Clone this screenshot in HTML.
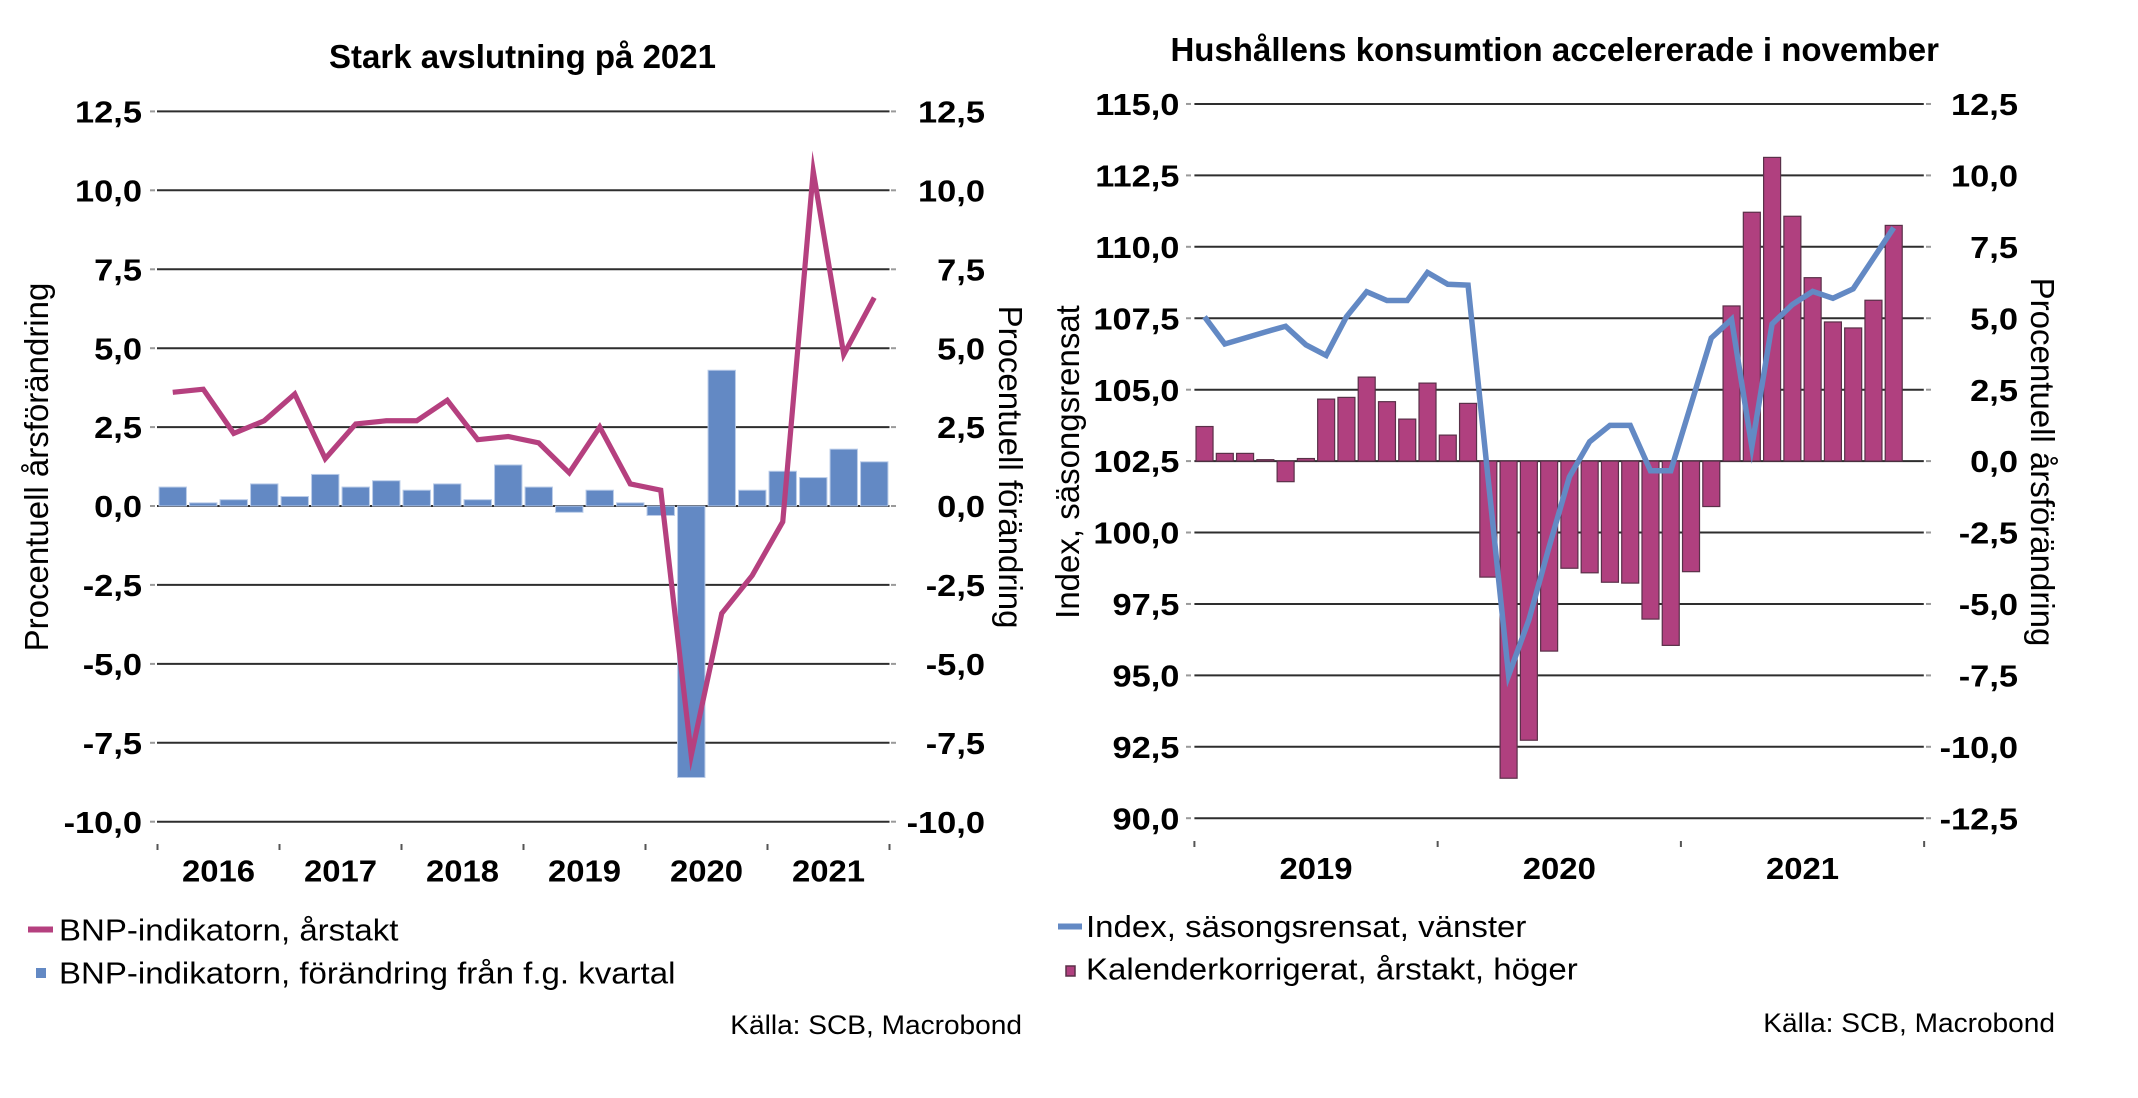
<!DOCTYPE html>
<html>
<head>
<meta charset="utf-8">
<style>
html,body{margin:0;padding:0;background:#fff;}
svg{display:block;}
.t{font-family:"Liberation Sans",Arial,sans-serif;fill:#000;}
.tk{font-size:31px;font-weight:bold;}
.yr{font-size:31px;font-weight:bold;}
.lg{font-size:31px;}
.src{font-size:27px;}
.ax{font-size:33px;}
.ti{font-size:33px;font-weight:bold;}
</style>
</head>
<body>
<svg width="2138" height="1098" viewBox="0 0 2138 1098" xmlns="http://www.w3.org/2000/svg">
<rect width="2138" height="1098" fill="#fff"/>

<!-- ================= LEFT CHART ================= -->
<text class="t ti" x="522.5" y="68" text-anchor="middle">Stark avslutning på 2021</text>

<!-- gridlines -->
<g stroke="#2e2e2e" stroke-width="2">
<line x1="157" y1="111.4" x2="889.5" y2="111.4"/>
<line x1="157" y1="190.3" x2="889.5" y2="190.3"/>
<line x1="157" y1="269.3" x2="889.5" y2="269.3"/>
<line x1="157" y1="348.2" x2="889.5" y2="348.2"/>
<line x1="157" y1="427.1" x2="889.5" y2="427.1"/>
<line x1="157" y1="506" x2="889.5" y2="506"/>
<line x1="157" y1="584.9" x2="889.5" y2="584.9"/>
<line x1="157" y1="663.9" x2="889.5" y2="663.9"/>
<line x1="157" y1="742.8" x2="889.5" y2="742.8"/>
<line x1="157" y1="821.7" x2="889.5" y2="821.7"/>
</g>
<g stroke="#9a9a9a" stroke-width="2">
<line x1="150" y1="111.4" x2="155" y2="111.4"/><line x1="891" y1="111.4" x2="896" y2="111.4"/>
<line x1="150" y1="190.3" x2="155" y2="190.3"/><line x1="891" y1="190.3" x2="896" y2="190.3"/>
<line x1="150" y1="269.3" x2="155" y2="269.3"/><line x1="891" y1="269.3" x2="896" y2="269.3"/>
<line x1="150" y1="348.2" x2="155" y2="348.2"/><line x1="891" y1="348.2" x2="896" y2="348.2"/>
<line x1="150" y1="427.1" x2="155" y2="427.1"/><line x1="891" y1="427.1" x2="896" y2="427.1"/>
<line x1="150" y1="506" x2="155" y2="506"/><line x1="891" y1="506" x2="896" y2="506"/>
<line x1="150" y1="584.9" x2="155" y2="584.9"/><line x1="891" y1="584.9" x2="896" y2="584.9"/>
<line x1="150" y1="663.9" x2="155" y2="663.9"/><line x1="891" y1="663.9" x2="896" y2="663.9"/>
<line x1="150" y1="742.8" x2="155" y2="742.8"/><line x1="891" y1="742.8" x2="896" y2="742.8"/>
<line x1="150" y1="821.7" x2="155" y2="821.7"/><line x1="891" y1="821.7" x2="896" y2="821.7"/>
</g>

<!-- bars -->
<g fill="#6389c4" stroke="#b9cbe8" stroke-width="1">
<rect x="159.05" y="487.06" width="27.4" height="18.94"/>
<rect x="189.55" y="502.84" width="27.4" height="3.16"/>
<rect x="220.05" y="499.69" width="27.4" height="6.31"/>
<rect x="250.55" y="483.90" width="27.4" height="22.10"/>
<rect x="281.05" y="496.53" width="27.4" height="9.47"/>
<rect x="311.55" y="474.43" width="27.4" height="31.57"/>
<rect x="342.05" y="487.06" width="27.4" height="18.94"/>
<rect x="372.55" y="480.74" width="27.4" height="25.26"/>
<rect x="403.05" y="490.21" width="27.4" height="15.79"/>
<rect x="433.55" y="483.90" width="27.4" height="22.10"/>
<rect x="464.05" y="499.69" width="27.4" height="6.31"/>
<rect x="494.55" y="464.96" width="27.4" height="41.04"/>
<rect x="525.05" y="487.06" width="27.4" height="18.94"/>
<rect x="555.55" y="506" width="27.4" height="6.31"/>
<rect x="586.05" y="490.21" width="27.4" height="15.79"/>
<rect x="616.55" y="502.84" width="27.4" height="3.16"/>
<rect x="647.05" y="506" width="27.4" height="9.47"/>
<rect x="677.55" y="506" width="27.4" height="271.5"/>
<rect x="708.05" y="370.25" width="27.4" height="135.75"/>
<rect x="738.55" y="490.21" width="27.4" height="15.79"/>
<rect x="769.05" y="471.27" width="27.4" height="34.73"/>
<rect x="799.55" y="477.59" width="27.4" height="28.41"/>
<rect x="830.05" y="449.17" width="27.4" height="56.83"/>
<rect x="860.55" y="461.8" width="27.4" height="44.2"/>
</g>

<!-- line -->
<polyline fill="none" stroke="#b5407f" stroke-width="5.2" stroke-linejoin="miter" stroke-miterlimit="20"
points="172.75,392.35 203.25,389.19 233.75,433.39 264.25,420.76 294.75,393.93 325.25,458.65 355.75,423.92 386.25,420.76 416.75,420.76 447.25,400.24 477.75,439.70 508.25,436.55 538.75,442.86 569.25,472.85 599.75,427.08 630.25,483.90 660.75,490.22 691.25,755.40 721.75,613.34 752.25,575.45 782.75,521.8 813.25,171.36 843.75,354.46 874.25,297.64"/>

<!-- x ticks -->
<g stroke="#555" stroke-width="2">
<line x1="157.5" y1="844" x2="157.5" y2="850"/>
<line x1="279.5" y1="844" x2="279.5" y2="850"/>
<line x1="401.5" y1="844" x2="401.5" y2="850"/>
<line x1="523.5" y1="844" x2="523.5" y2="850"/>
<line x1="645.5" y1="844" x2="645.5" y2="850"/>
<line x1="767.5" y1="844" x2="767.5" y2="850"/>
<line x1="889.5" y1="844" x2="889.5" y2="850"/>
</g>
<g class="t yr" text-anchor="middle">
<g transform="translate(218.5,881.5) scale(1.06,1)"><text>2016</text></g>
<g transform="translate(340.5,881.5) scale(1.06,1)"><text>2017</text></g>
<g transform="translate(462.5,881.5) scale(1.06,1)"><text>2018</text></g>
<g transform="translate(584.5,881.5) scale(1.06,1)"><text>2019</text></g>
<g transform="translate(706.5,881.5) scale(1.06,1)"><text>2020</text></g>
<g transform="translate(828.5,881.5) scale(1.06,1)"><text>2021</text></g>
</g>

<!-- y tick labels left chart -->
<g class="t tk" text-anchor="end">
<g transform="translate(142,122.5) scale(1.11,1)"><text>12,5</text></g>
<g transform="translate(142,201.4) scale(1.11,1)"><text>10,0</text></g>
<g transform="translate(142,280.4) scale(1.11,1)"><text>7,5</text></g>
<g transform="translate(142,359.3) scale(1.11,1)"><text>5,0</text></g>
<g transform="translate(142,438.2) scale(1.11,1)"><text>2,5</text></g>
<g transform="translate(142,517.1) scale(1.11,1)"><text>0,0</text></g>
<g transform="translate(142,596) scale(1.11,1)"><text>-2,5</text></g>
<g transform="translate(142,675) scale(1.11,1)"><text>-5,0</text></g>
<g transform="translate(142,753.9) scale(1.11,1)"><text>-7,5</text></g>
<g transform="translate(142,832.8) scale(1.11,1)"><text>-10,0</text></g>

<g transform="translate(985,122.5) scale(1.11,1)"><text>12,5</text></g>
<g transform="translate(985,201.4) scale(1.11,1)"><text>10,0</text></g>
<g transform="translate(985,280.4) scale(1.11,1)"><text>7,5</text></g>
<g transform="translate(985,359.3) scale(1.11,1)"><text>5,0</text></g>
<g transform="translate(985,438.2) scale(1.11,1)"><text>2,5</text></g>
<g transform="translate(985,517.1) scale(1.11,1)"><text>0,0</text></g>
<g transform="translate(985,596) scale(1.11,1)"><text>-2,5</text></g>
<g transform="translate(985,675) scale(1.11,1)"><text>-5,0</text></g>
<g transform="translate(985,753.9) scale(1.11,1)"><text>-7,5</text></g>
<g transform="translate(985,832.8) scale(1.11,1)"><text>-10,0</text></g>
</g>

<!-- axis titles left chart -->
<text class="t ax" transform="translate(48,467) rotate(-90)" text-anchor="middle">Procentuell årsförändring</text>
<text class="t ax" transform="translate(999,467) rotate(90)" text-anchor="middle">Procentuell förändring</text>

<!-- legend left -->
<rect x="28" y="926.5" width="25" height="6" fill="#b5407f"/>
<g class="t lg" transform="translate(59,940.7) scale(1.065,1)"><text>BNP-indikatorn, årstakt</text></g>
<rect x="36" y="968" width="10" height="10" fill="#6389c4"/>
<g class="t lg" transform="translate(59,983.3) scale(1.065,1)"><text>BNP-indikatorn, förändring från f.g. kvartal</text></g>
<g class="t src" transform="translate(1022,1034) scale(1.04,1)"><text text-anchor="end">Källa: SCB, Macrobond</text></g>

<!-- ================= RIGHT CHART ================= -->
<text class="t ti" x="1554.7" y="61" text-anchor="middle">Hushållens konsumtion accelererade i november</text>

<g stroke="#2e2e2e" stroke-width="2">
<line x1="1194.4" y1="103.96" x2="1923.8" y2="103.96"/>
<line x1="1194.4" y1="175.4" x2="1923.8" y2="175.4"/>
<line x1="1194.4" y1="246.8" x2="1923.8" y2="246.8"/>
<line x1="1194.4" y1="318.25" x2="1923.8" y2="318.25"/>
<line x1="1194.4" y1="389.7" x2="1923.8" y2="389.7"/>
<line x1="1194.4" y1="461.1" x2="1923.8" y2="461.1"/>
<line x1="1194.4" y1="532.5" x2="1923.8" y2="532.5"/>
<line x1="1194.4" y1="603.95" x2="1923.8" y2="603.95"/>
<line x1="1194.4" y1="675.4" x2="1923.8" y2="675.4"/>
<line x1="1194.4" y1="746.8" x2="1923.8" y2="746.8"/>
<line x1="1194.4" y1="818.2" x2="1923.8" y2="818.2"/>
</g>
<g stroke="#9a9a9a" stroke-width="2">
<line x1="1186" y1="103.96" x2="1191" y2="103.96"/><line x1="1926" y1="103.96" x2="1931" y2="103.96"/>
<line x1="1186" y1="175.4" x2="1191" y2="175.4"/><line x1="1926" y1="175.4" x2="1931" y2="175.4"/>
<line x1="1186" y1="246.8" x2="1191" y2="246.8"/><line x1="1926" y1="246.8" x2="1931" y2="246.8"/>
<line x1="1186" y1="318.25" x2="1191" y2="318.25"/><line x1="1926" y1="318.25" x2="1931" y2="318.25"/>
<line x1="1186" y1="389.7" x2="1191" y2="389.7"/><line x1="1926" y1="389.7" x2="1931" y2="389.7"/>
<line x1="1186" y1="461.1" x2="1191" y2="461.1"/><line x1="1926" y1="461.1" x2="1931" y2="461.1"/>
<line x1="1186" y1="532.5" x2="1191" y2="532.5"/><line x1="1926" y1="532.5" x2="1931" y2="532.5"/>
<line x1="1186" y1="603.95" x2="1191" y2="603.95"/><line x1="1926" y1="603.95" x2="1931" y2="603.95"/>
<line x1="1186" y1="675.4" x2="1191" y2="675.4"/><line x1="1926" y1="675.4" x2="1931" y2="675.4"/>
<line x1="1186" y1="746.8" x2="1191" y2="746.8"/><line x1="1926" y1="746.8" x2="1931" y2="746.8"/>
<line x1="1186" y1="818.2" x2="1191" y2="818.2"/><line x1="1926" y1="818.2" x2="1931" y2="818.2"/>
</g>

<!-- bars -->
<g fill="#b0407f" stroke="#5a3049" stroke-width="1.2">
<rect x="1196.04" y="426.53" width="17" height="34.57"/>
<rect x="1216.31" y="453.39" width="17" height="7.71"/>
<rect x="1236.58" y="453.39" width="17" height="7.71"/>
<rect x="1256.85" y="459.67" width="17" height="1.43"/>
<rect x="1277.12" y="461.1" width="17" height="20.57"/>
<rect x="1297.39" y="458.53" width="17" height="2.57"/>
<rect x="1317.66" y="399.1" width="17" height="62.0"/>
<rect x="1337.93" y="397.39" width="17" height="63.71"/>
<rect x="1358.20" y="377.1" width="17" height="84.0"/>
<rect x="1378.47" y="401.67" width="17" height="59.43"/>
<rect x="1398.74" y="419.1" width="17" height="42.0"/>
<rect x="1419.01" y="383.1" width="17" height="78.0"/>
<rect x="1439.28" y="435.1" width="17" height="26.0"/>
<rect x="1459.55" y="403.39" width="17" height="57.71"/>
<rect x="1479.82" y="461.1" width="17" height="116.0"/>
<rect x="1500.09" y="461.1" width="17" height="317.13"/>
<rect x="1520.36" y="461.1" width="17" height="279.13"/>
<rect x="1540.63" y="461.1" width="17" height="190.0"/>
<rect x="1560.90" y="461.1" width="17" height="107.14"/>
<rect x="1581.17" y="461.1" width="17" height="111.71"/>
<rect x="1601.44" y="461.1" width="17" height="121.14"/>
<rect x="1621.71" y="461.1" width="17" height="122.0"/>
<rect x="1641.98" y="461.1" width="17" height="157.99"/>
<rect x="1662.25" y="461.1" width="17" height="184.28"/>
<rect x="1682.52" y="461.1" width="17" height="110.57"/>
<rect x="1702.79" y="461.1" width="17" height="45.43"/>
<rect x="1723.06" y="305.96" width="17" height="155.14"/>
<rect x="1743.33" y="212.26" width="17" height="248.84"/>
<rect x="1763.60" y="157.4" width="17" height="303.7"/>
<rect x="1783.87" y="216.26" width="17" height="244.84"/>
<rect x="1804.14" y="277.68" width="17" height="183.42"/>
<rect x="1824.41" y="321.96" width="17" height="139.14"/>
<rect x="1844.68" y="327.96" width="17" height="133.14"/>
<rect x="1864.95" y="300.25" width="17" height="160.85"/>
<rect x="1885.22" y="225.4" width="17" height="235.7"/>
</g>

<!-- index line -->
<polyline fill="none" stroke="#6389c4" stroke-width="5.5" stroke-linejoin="miter" stroke-miterlimit="20"
points="1204.54,316.82 1224.81,343.96 1245.08,337.96 1265.35,331.96 1285.62,326.25 1305.89,344.82 1326.16,355.39 1346.43,316.82 1366.70,291.68 1386.97,300.54 1407.24,300.54 1427.51,272.54 1447.78,284.25 1468.05,285.11 1488.32,480.53 1508.59,675.38 1528.86,619.95 1549.13,546.81 1569.40,476.81 1589.67,441.67 1609.94,425.39 1630.21,425.39 1650.48,470.81 1670.75,470.81 1691.02,404.53 1711.29,337.96 1731.56,319.39 1751.83,446.81 1772.10,323.96 1792.37,304.54 1812.64,291.39 1832.91,298.25 1853.18,288.82 1873.45,258.25 1893.72,227.68"/>

<!-- x ticks -->
<g stroke="#555" stroke-width="2">
<line x1="1194.4" y1="841" x2="1194.4" y2="847"/>
<line x1="1437.65" y1="841" x2="1437.65" y2="847"/>
<line x1="1680.9" y1="841" x2="1680.9" y2="847"/>
<line x1="1924.15" y1="841" x2="1924.15" y2="847"/>
</g>
<g class="t yr" text-anchor="middle">
<g transform="translate(1316,879) scale(1.06,1)"><text>2019</text></g>
<g transform="translate(1559.3,879) scale(1.06,1)"><text>2020</text></g>
<g transform="translate(1802.5,879) scale(1.06,1)"><text>2021</text></g>
</g>

<!-- y tick labels right chart -->
<g class="t tk" text-anchor="end">
<g transform="translate(1179.4,115.1) scale(1.11,1)"><text>115,0</text></g>
<g transform="translate(1179.4,186.5) scale(1.11,1)"><text>112,5</text></g>
<g transform="translate(1179.4,257.9) scale(1.11,1)"><text>110,0</text></g>
<g transform="translate(1179.4,329.4) scale(1.11,1)"><text>107,5</text></g>
<g transform="translate(1179.4,400.8) scale(1.11,1)"><text>105,0</text></g>
<g transform="translate(1179.4,472.2) scale(1.11,1)"><text>102,5</text></g>
<g transform="translate(1179.4,543.6) scale(1.11,1)"><text>100,0</text></g>
<g transform="translate(1179.4,615.1) scale(1.11,1)"><text>97,5</text></g>
<g transform="translate(1179.4,686.5) scale(1.11,1)"><text>95,0</text></g>
<g transform="translate(1179.4,757.9) scale(1.11,1)"><text>92,5</text></g>
<g transform="translate(1179.4,829.3) scale(1.11,1)"><text>90,0</text></g>

<g transform="translate(2018,115.1) scale(1.11,1)"><text>12,5</text></g>
<g transform="translate(2018,186.5) scale(1.11,1)"><text>10,0</text></g>
<g transform="translate(2018,257.9) scale(1.11,1)"><text>7,5</text></g>
<g transform="translate(2018,329.4) scale(1.11,1)"><text>5,0</text></g>
<g transform="translate(2018,400.8) scale(1.11,1)"><text>2,5</text></g>
<g transform="translate(2018,472.2) scale(1.11,1)"><text>0,0</text></g>
<g transform="translate(2018,543.6) scale(1.11,1)"><text>-2,5</text></g>
<g transform="translate(2018,615.1) scale(1.11,1)"><text>-5,0</text></g>
<g transform="translate(2018,686.5) scale(1.11,1)"><text>-7,5</text></g>
<g transform="translate(2018,757.9) scale(1.11,1)"><text>-10,0</text></g>
<g transform="translate(2018,829.3) scale(1.11,1)"><text>-12,5</text></g>
</g>

<!-- axis titles right chart -->
<text class="t ax" transform="translate(1079,462) rotate(-90)" text-anchor="middle">Index, säsongsrensat</text>
<text class="t ax" transform="translate(2031,462) rotate(90)" text-anchor="middle">Procentuell årsförändring</text>

<!-- legend right -->
<rect x="1058" y="923.5" width="24" height="6" fill="#6389c4"/>
<g class="t lg" transform="translate(1086,937) scale(1.065,1)"><text>Index, säsongsrensat, vänster</text></g>
<rect x="1066" y="966" width="9" height="10" fill="#b0407f" stroke="#5a3049" stroke-width="1.5"/>
<g class="t lg" transform="translate(1086,979.7) scale(1.065,1)"><text>Kalenderkorrigerat, årstakt, höger</text></g>
<g class="t src" transform="translate(2055,1032) scale(1.04,1)"><text text-anchor="end">Källa: SCB, Macrobond</text></g>

</svg>
</body>
</html>
